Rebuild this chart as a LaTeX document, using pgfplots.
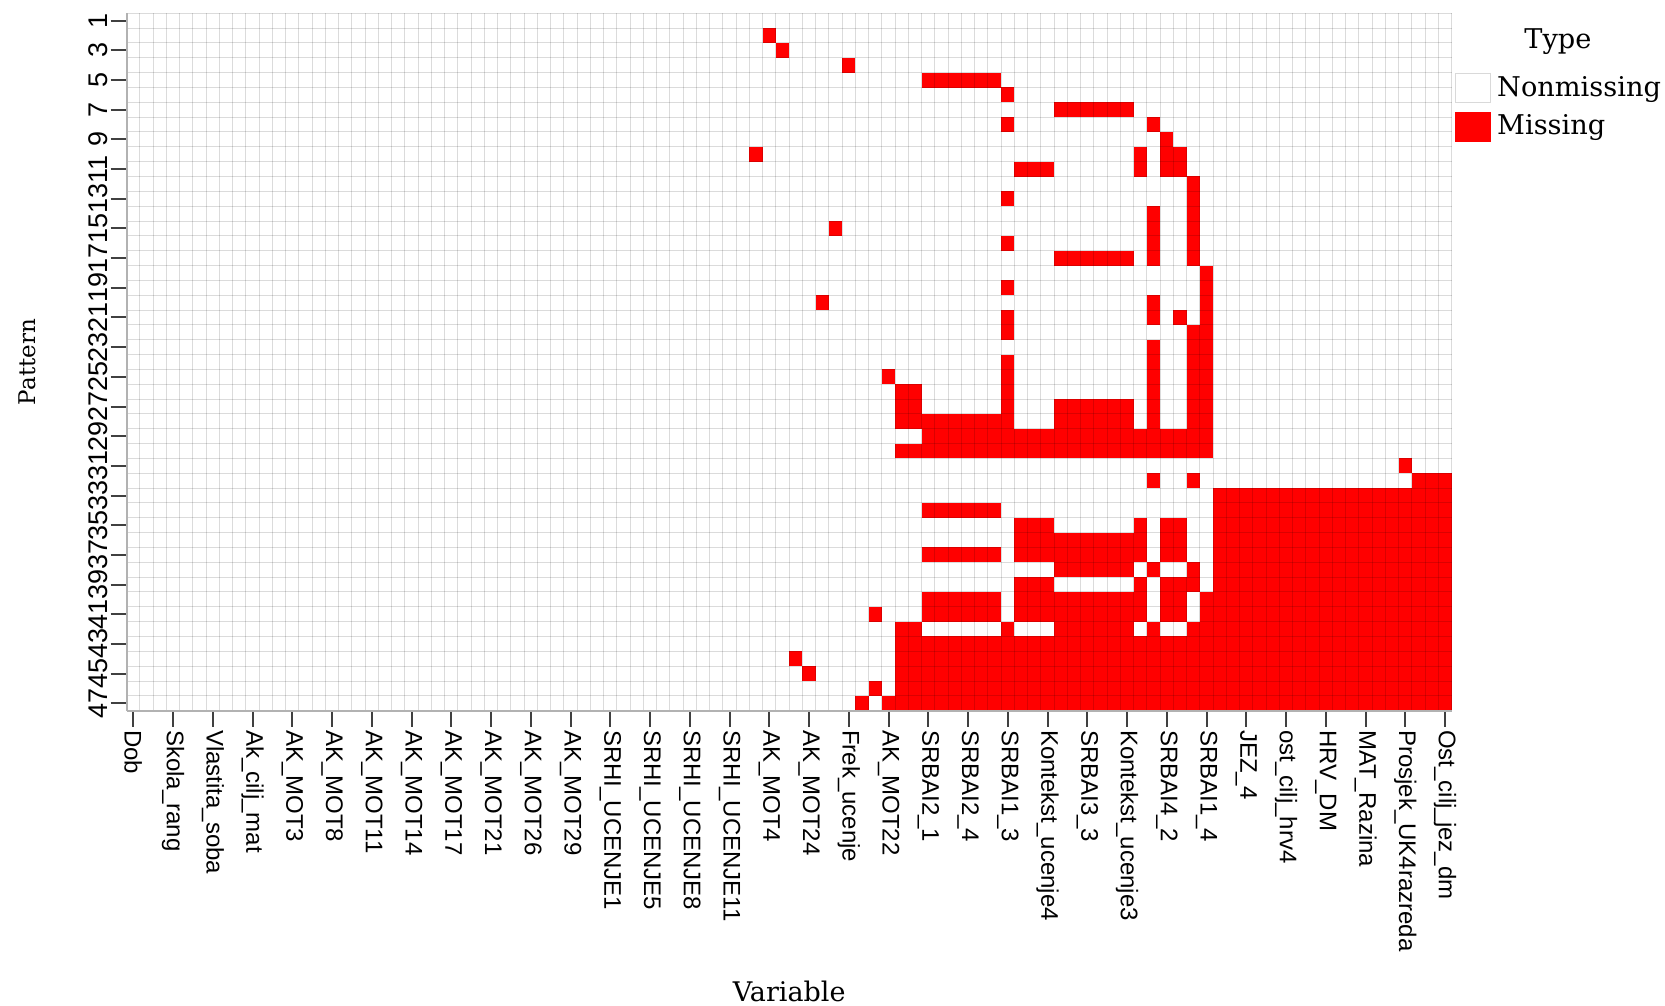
\documentclass[border=0pt]{standalone}
\usepackage{pgfplots}
\pgfplotsset{compat=1.18}
\usepackage{pgfplotstable}
\usepackage{fontspec}
\setmainfont{DejaVu Serif}
\newfontfamily\arial{Liberation Sans}
\definecolor{miss}{RGB}{255,0,0}

% runs of missing cells: pattern row, first variable column, last variable column
\pgfplotstableread{
row from to
2 49 49
3 50 50
4 55 55
5 61 66
6 67 67
7 71 76
8 67 67
8 78 78
9 79 79
10 48 48
10 77 77
10 79 80
11 68 70
11 77 77
11 79 80
12 81 81
13 67 67
13 81 81
14 78 78
14 81 81
15 54 54
15 78 78
15 81 81
16 67 67
16 78 78
16 81 81
17 71 76
17 78 78
17 81 81
18 82 82
19 67 67
19 82 82
20 53 53
20 78 78
20 82 82
21 67 67
21 78 78
21 80 80
21 82 82
22 67 67
22 81 82
23 78 78
23 81 82
24 67 67
24 78 78
24 81 82
25 58 58
25 67 67
25 78 78
25 81 82
26 59 60
26 67 67
26 78 78
26 81 82
27 59 60
27 67 67
27 71 76
27 78 78
27 81 82
28 59 67
28 71 76
28 78 78
28 81 82
29 61 82
30 59 82
31 97 97
32 78 78
32 81 81
32 98 100
33 83 100
34 61 66
34 83 100
35 68 70
35 77 77
35 79 80
35 83 100
36 68 77
36 79 80
36 83 100
37 61 66
37 68 77
37 79 80
37 83 100
38 71 76
38 78 78
38 81 81
38 83 100
39 68 70
39 77 77
39 79 81
39 83 100
40 61 66
40 68 77
40 79 80
40 82 100
41 57 57
41 61 66
41 68 77
41 79 80
41 82 100
42 59 60
42 67 67
42 71 76
42 78 78
42 81 100
43 59 100
44 51 51
44 59 100
45 52 52
45 59 100
46 57 57
46 59 100
47 56 56
47 58 100
}\runs

\begin{document}
\begin{tikzpicture}
\useasboundingbox (0,0) rectangle (832.5pt,503pt);
\begin{axis}[
  at={(63.35pt,147.65pt)}, anchor=south west,
  scale only axis, width=662.5pt, height=348.7pt,
  xmin=0.5, xmax=100.5, ymin=0.5, ymax=47.5,
  clip=false,
  axis on top,
  axis x line*=bottom, axis y line*=left,
  axis line style={draw=gray!60, line width=1pt, -},
  x axis line style={-}, y axis line style={-},
  xtick={1,4,...,100},
  xticklabels={Dob,Skola\_rang,Vlastita\_soba,Ak\_cilj\_mat,AK\_MOT3,AK\_MOT8,AK\_MOT11,AK\_MOT14,AK\_MOT17,AK\_MOT21,AK\_MOT26,AK\_MOT29,SRHI\_UCENJE1,SRHI\_UCENJE5,SRHI\_UCENJE8,SRHI\_UCENJE11,AK\_MOT4,AK\_MOT24,Frek\_ucenje,AK\_MOT22,SRBAI2\_1,SRBAI2\_4,SRBAI1\_3,Kontekst\_ucenje4,SRBAI3\_3,Kontekst\_ucenje3,SRBAI4\_2,SRBAI1\_4,JEZ\_4,ost\_cilj\_hrv4,HRV\_DM,MAT\_Razina,Prosjek\_UK4razreda,Ost\_cilj\_jez\_dm},
  ytick={1,3,...,47},
  yticklabels={47,45,43,41,39,37,35,33,31,29,27,25,23,21,19,17,15,13,11,9,7,5,3,1},
  minor xtick={0.5,1.5,...,100.5},
  minor ytick={0.5,1.5,...,47.5},
  xminorgrids, yminorgrids,
  xmajorgrids=false, ymajorgrids=false,
  minor grid style={draw=black, opacity=0.14, line width=0.5pt},
  minor tick length=0pt,
  major tick length=8pt,
  tick align=outside,
  tick style={draw=gray!50!black, line width=1pt},
  xticklabel style={font=\arial\fontsize{12}{12}\selectfont, rotate=-90, anchor=west, inner sep=1.5pt},
  yticklabel style={font=\arial\fontsize{13.5}{13.5}\selectfont, rotate=90, anchor=south, inner sep=1.5pt},
  xlabel={Variable}, ylabel={Pattern},
  xlabel style={at={(axis description cs:0.5,-0.4019)}, anchor=center, font=\fontsize{13.5}{14}\selectfont},
  ylabel style={at={(axis description cs:-0.0752,0.5)}, anchor=center, font=\fontsize{11.5}{12}\selectfont},
  legend style={at={(axis description cs:1.0025,0.9158)}, anchor=north west, draw=none, fill=none, inner sep=0pt, row sep=3.75pt, column sep=1pt, font=\fontsize{13.6}{14}\selectfont, cells={anchor=west}},
  legend image code/.code={\draw[#1] (0pt,-7.25pt) rectangle (17.5pt,7.25pt);},
]
\addplot[forget plot, draw=none, mark=none,
  error bars/.cd, x dir=both, x explicit, error mark=none,
  error bar style={draw=miss, line width=7.45pt, solid}]
  table[x expr={(\thisrow{from}+\thisrow{to})/2}, y expr={48-\thisrow{row}}, x error expr={(\thisrow{to}-\thisrow{from}+1)/2}] {\runs};
\addlegendimage{fill=white, draw=gray!30}
\addlegendentry{Nonmissing}
\addlegendimage{fill=miss, draw=miss}
\addlegendentry{Missing}
\node[font=\fontsize{13.6}{14}\selectfont] at (axis description cs:1.0802,0.9589) {Type};
\end{axis}
\end{tikzpicture}
\end{document}
